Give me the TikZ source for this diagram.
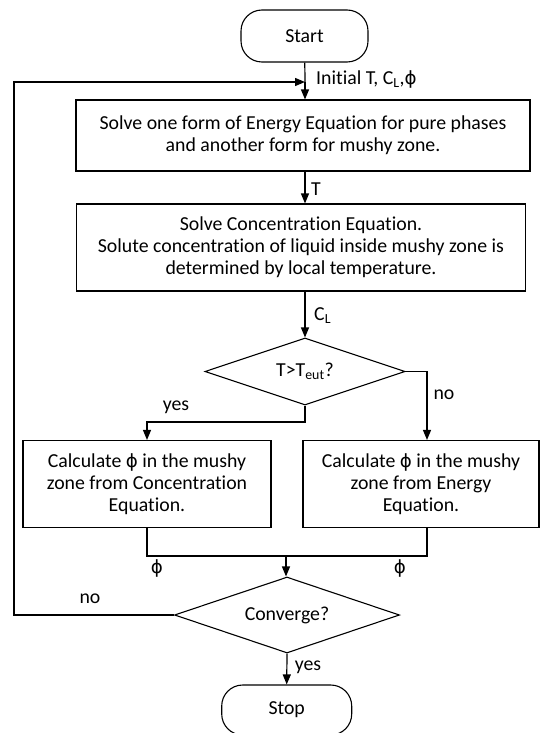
\documentclass[tikz,border=0pt]{standalone}
\usepackage{fontspec}
\setmainfont{Carlito}[Ligatures=NoCommon]
\newfontfamily\phifont{DejaVu Sans}[Scale=0.92]
\newcommand{\ph}{{\phifont ϕ}}
\usepackage{tikz}
\usetikzlibrary{positioning,arrows.meta,shapes.geometric,calc}
\tikzset{
  term/.style={rectangle,rounded corners=21pt,draw,line width=1.1pt,
    minimum width=127pt,minimum height=52pt,inner sep=2pt},
  blk/.style={rectangle,draw,line width=1.1pt,align=center,inner sep=3pt},
  dec/.style={diamond,draw,line width=1.1pt,inner sep=0pt,align=center,aspect=3},
  ar/.style={-{Triangle[length=10pt,width=8pt]},line width=1.2pt},
  ln/.style={line width=1.2pt},
  lbl/.style={inner sep=0pt},
}

\begin{document}
\begin{tikzpicture}[x=1pt,y=-1pt,font=\fontsize{19.8}{21.8}\selectfont]
  \useasboundingbox[fill=white] (0,0) rectangle (540,733);
  \node[term] (start) at (304.5,36) {Start};
  \coordinate (jn) at (305,82);
  \coordinate (lp) at (14,0);
  \node[blk,minimum width=454pt,minimum height=71pt] (energy) at (303,135.5)
    {Solve one form of Energy Equation for pure phases\\and another form for mushy zone.};
  \node[blk,minimum width=449pt,minimum height=87pt] (conc) at (301,247.5)
    {Solve Concentration Equation.\\Solute concentration of liquid inside mushy zone is\\determined by local temperature.};
  \node[dec,minimum width=200pt,minimum height=67pt] (tst) at (305,371.5)
    {T>T\textsubscript{eut}?};
  \coordinate (ysp) at (305,422);
  \coordinate (nob) at (427,0);
  \node[blk,minimum width=248pt,minimum height=87pt] (phic) at (147,484)
    {Calculate \ph{} in the mushy\\zone from Concentration\\Equation.};
  \node[blk,minimum width=236pt,minimum height=87pt] (phie) at (421,484)
    {Calculate \ph{} in the mushy\\zone from Energy\\Equation.};
  \coordinate (mrg) at (286,556);
  \node[dec,minimum width=225pt,minimum height=76pt] (conv) at (287,615)
    {Converge?};
  \node[term,minimum width=130pt,minimum height=50pt] (stop) at (286.7,710) {Stop};

  \draw[ln] (start) -- (jn);
  \draw[ar] (jn) -- (jn |- energy.north);
  \draw[ar] (energy.south -| jn) -- (conc.north -| jn);
  \draw[ar] (conc.south -| jn) -- (tst.north);
  \draw[ar] (tst.east) -| (nob |- phie.north);
  \draw[ar] (tst.south) -- (ysp) -| (phic.north);
  \draw[ln] (phic.south) |- (nob |- mrg) -- (nob |- phie.south);
  \draw[ar] (mrg) -- (mrg |- conv.north);
  \draw[ar] (conv.south) -- (stop.north);
  \draw[ar] (conv.west) -- (conv.west -| lp) |- (jn);

  \node[lbl,anchor=west] at (316,79) {Initial T, C\textsubscript{L},\ph};
  \node[lbl,anchor=west] at (311,189) {T};
  \node[lbl,anchor=west] at (314,316) {C\textsubscript{L}};
  \node[lbl] at (176,407) {yes};
  \node[lbl] at (444,395) {no};
  \node[lbl] at (157,568) {\ph};
  \node[lbl] at (400,568) {\ph};
  \node[lbl] at (90,599) {no};
  \node[lbl] at (308,667) {yes};
\end{tikzpicture}
\end{document}
